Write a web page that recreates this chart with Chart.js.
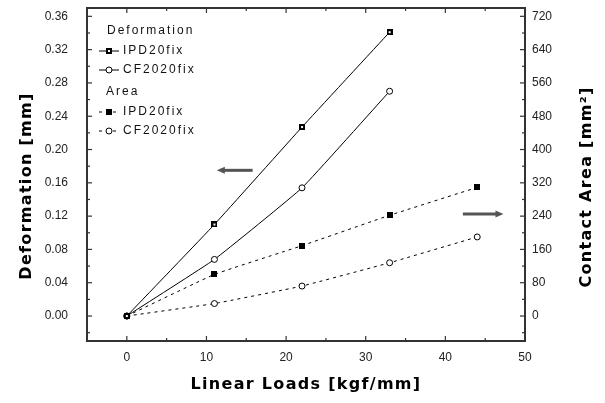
<!DOCTYPE html>
<html>
<head>
<meta charset="utf-8">
<script src="https://cdn.jsdelivr.net/npm/chart.js@4/dist/chart.umd.min.js"></script>
<style>
  html, body { margin: 0; padding: 0; background: #fff; }
</style>
</head>
<body>
<canvas id="chart" width="605" height="403"></canvas>
<script>
// values
const loadsDef = [0, 11, 22, 33];
const loadsArea = [0, 11, 22, 33, 44];
const defIPD = [0, 0.110, 0.227, 0.341];
const defCF = [0, 0.068, 0.154, 0.270];
const areaIPD = [0, 100, 169, 242, 309];
const areaCF = [0, 30, 72, 128, 190];

const xTicks = [0, 10, 20, 30, 40, 50];
const yTicks = [0, 0.04, 0.08, 0.12, 0.16, 0.20, 0.24, 0.28, 0.32, 0.36];
const y2Ticks = [0, 80, 160, 240, 320, 400, 480, 560, 640, 720];

const ink = "#222";
const frameColor = "#333";
const tickFont = { family: "'Liberation Sans', Arial, sans-serif", size: 12 };

function marker(kind) {
    const c = document.createElement("canvas");
    c.width = 6;
    c.height = 6;
    const g = c.getContext("2d");
    g.fillStyle = "#000";
    g.fillRect(0, 0, 6, 6);
    if (kind === "hollow") {
        g.fillStyle = "#fff";
        g.fillRect(2, 2, 2, 2);
    }
    return c;
}
const sqDot = marker("hollow");
const sqFull = marker("full");

const pts = (xs, ys) => xs.map((x, i) => ({ x, y: ys[i] }));

const series = [
    { label: "IPD20fix", group: "Deformation", data: pts(loadsDef, defIPD), axis: "y", dash: [], style: sqDot },
    { label: "CF2020fix", group: "Deformation", data: pts(loadsDef, defCF), axis: "y", dash: [], style: "circle" },
    { label: "IPD20fix", group: "Area", data: pts(loadsArea, areaIPD), axis: "y2", dash: [3, 4], style: sqFull },
    { label: "CF2020fix", group: "Area", data: pts(loadsArea, areaCF), axis: "y2", dash: [3, 4], style: "circle" },
];

// top edge of the box and inward ticks on all four sides
const frameTicks = {
    id: "frameTicks",
    afterDraw(chart) {
        const { ctx, chartArea, scales } = chart;
        const L = chartArea.left, R = chartArea.right, T = chartArea.top, B = chartArea.bottom;
        const seg = (x1, y1, x2, y2) => {
            ctx.beginPath();
            ctx.moveTo(x1, y1);
            ctx.lineTo(x2, y2);
            ctx.stroke();
        };
        ctx.save();
        ctx.setLineDash([]);
        ctx.strokeStyle = frameColor;
        ctx.lineWidth = 2;
        seg(L - 1, T, R + 1, T);

        ctx.lineWidth = 1.2;
        const xs = scales.x;
        xTicks.forEach((v, i) => {
            const p = xs.getPixelForValue(v);
            seg(p, B, p, B - 5);
            seg(p, T, p, T + 5);
            if (i < xTicks.length - 1) {
                const m = xs.getPixelForValue((v + xTicks[i + 1]) / 2);
                seg(m, B, m, B - 3);
                seg(m, T, m, T + 3);
            }
        });
        const ys = scales.y;
        const step = yTicks[1] - yTicks[0];
        yTicks.forEach((v) => {
            const p = ys.getPixelForValue(v);
            seg(L, p, L + 5, p);
            seg(R, p, R - 5, p);
        });
        [yTicks[0] - step / 2, ...yTicks.map((v) => v + step / 2)].forEach((v) => {
            const p = ys.getPixelForValue(v);
            if (p < T || p > B) return;
            seg(L, p, L + 3, p);
            seg(R, p, R - 3, p);
        });
        ctx.restore();
    },
};

// arrows pointing at the axis each group belongs to
const arrows = {
    id: "arrows",
    afterDraw(chart) {
        const { ctx, scales } = chart;
        const list = [
            { from: [15.8, 0.175], to: [11.3, 0.175], y: "y" },
            { from: [42.2, 245], to: [47.3, 245], y: "y2" },
        ];
        ctx.save();
        ctx.setLineDash([]);
        ctx.strokeStyle = "#555";
        ctx.fillStyle = "#555";
        ctx.lineWidth = 3;
        list.forEach((ar) => {
            const x1 = scales.x.getPixelForValue(ar.from[0]);
            const x2 = scales.x.getPixelForValue(ar.to[0]);
            const y = scales[ar.y].getPixelForValue(ar.from[1]);
            const dir = Math.sign(x2 - x1);
            ctx.beginPath();
            ctx.moveTo(x1, y);
            ctx.lineTo(x2 - dir * 5, y);
            ctx.stroke();
            ctx.beginPath();
            ctx.moveTo(x2, y);
            ctx.lineTo(x2 - dir * 8, y - 3.5);
            ctx.lineTo(x2 - dir * 8, y + 3.5);
            ctx.closePath();
            ctx.fill();
        });
        ctx.restore();
    },
};

function drawMark(ctx, style, x, y) {
    if (style === "circle") {
        ctx.beginPath();
        ctx.arc(x, y, 3, 0, Math.PI * 2);
        ctx.fillStyle = "#fff";
        ctx.fill();
        ctx.strokeStyle = "#000";
        ctx.lineWidth = 1;
        ctx.stroke();
    } else {
        ctx.drawImage(style, x - 3, y - 3);
    }
}

// legend in the upper left, drawn like the original
const legendBox = {
    id: "legendBox",
    afterDraw(chart) {
        const { ctx } = chart;
        ctx.save();
        ctx.font = "12px 'Liberation Sans', Arial, sans-serif";
        ctx.letterSpacing = "2px";
        ctx.fillStyle = "#111";
        ctx.textBaseline = "middle";
        const rows = [31, 51, 70, 92, 112, 131];
        ctx.fillText("Deformation", 107, rows[0]);
        ctx.fillText("Area", 106, rows[3]);
        const slots = [rows[1], rows[2], rows[4], rows[5]];
        series.forEach((s, i) => {
            const y = slots[i];
            ctx.strokeStyle = "#000";
            ctx.lineWidth = 1;
            ctx.setLineDash(s.dash);
            ctx.beginPath();
            ctx.moveTo(99, y);
            ctx.lineTo(119, y);
            ctx.stroke();
            ctx.setLineDash([]);
            drawMark(ctx, s.style, 109, y);
            ctx.fillStyle = "#111";
            ctx.fillText(s.label, 123, y);
        });
        ctx.restore();
    },
};

// axis titles, bold and slightly spaced like the original
const axisTitles = {
    id: "axisTitles",
    afterDraw(chart) {
        const { ctx } = chart;
        ctx.save();
        ctx.font = "bold 16px 'DejaVu Sans', sans-serif";
        ctx.letterSpacing = "1.3px";
        ctx.fillStyle = "#000";
        ctx.textAlign = "center";
        ctx.textBaseline = "middle";
        [
            ["Linear Loads [kgf/mm]", 306, 385, 0],
            ["Deformation [mm]", 27, 186, -Math.PI / 2],
            ["Contact Area [mm²]", 587, 187, -Math.PI / 2],
        ].forEach(([t, x, y, rot]) => {
            ctx.save();
            ctx.translate(x, y);
            ctx.rotate(rot);
            ctx.fillText(t, 0, 0);
            ctx.restore();
        });
        ctx.restore();
    },
};

const axisBorder = { display: true, color: frameColor, width: 2 };

new Chart(document.getElementById("chart"), {
    type: "line",
    data: {
        datasets: series.map((s) => ({
            label: s.group + " " + s.label,
            data: s.data,
            yAxisID: s.axis,
            borderColor: "#000",
            borderWidth: 1,
            borderDash: s.dash,
            tension: 0.1,
            pointStyle: s.style,
            pointRadius: 3,
            pointBackgroundColor: "#fff",
            pointBorderColor: "#000",
            pointBorderWidth: 1,
        })),
    },
    options: {
        responsive: false,
        animation: false,
        devicePixelRatio: 1,
        layout: { padding: { top: 8 } },
        plugins: {
            legend: { display: false },
            tooltip: { enabled: false },
        },
        scales: {
            x: {
                type: "linear",
                position: "bottom",
                min: -5,
                max: 50,
                afterBuildTicks: (s) => { s.ticks = xTicks.map((v) => ({ value: v })); },
                afterFit: (s) => { s.height = 62; s.paddingLeft = 0; s.paddingRight = 0; },
                grid: { display: false, drawTicks: false },
                border: axisBorder,
                ticks: { padding: 9, color: ink, font: tickFont },
            },
            y: {
                type: "linear",
                position: "left",
                min: -0.03,
                max: 0.37,
                afterBuildTicks: (s) => { s.ticks = yTicks.map((v) => ({ value: v })); },
                afterFit: (s) => { s.width = 87; s.paddingTop = 0; s.paddingBottom = 0; },
                grid: { display: false, drawTicks: false },
                border: axisBorder,
                ticks: { padding: 19, color: ink, font: tickFont, callback: (v) => v.toFixed(2) },
            },
            y2: {
                type: "linear",
                position: "right",
                min: -60,
                max: 740,
                afterBuildTicks: (s) => { s.ticks = y2Ticks.map((v) => ({ value: v })); },
                afterFit: (s) => { s.width = 80; s.paddingTop = 0; s.paddingBottom = 0; },
                grid: { display: false, drawTicks: false },
                border: axisBorder,
                ticks: { padding: 7, color: ink, font: tickFont },
            },
        },
    },
    plugins: [frameTicks, arrows, legendBox, axisTitles],
});
</script>
</body>
</html>
